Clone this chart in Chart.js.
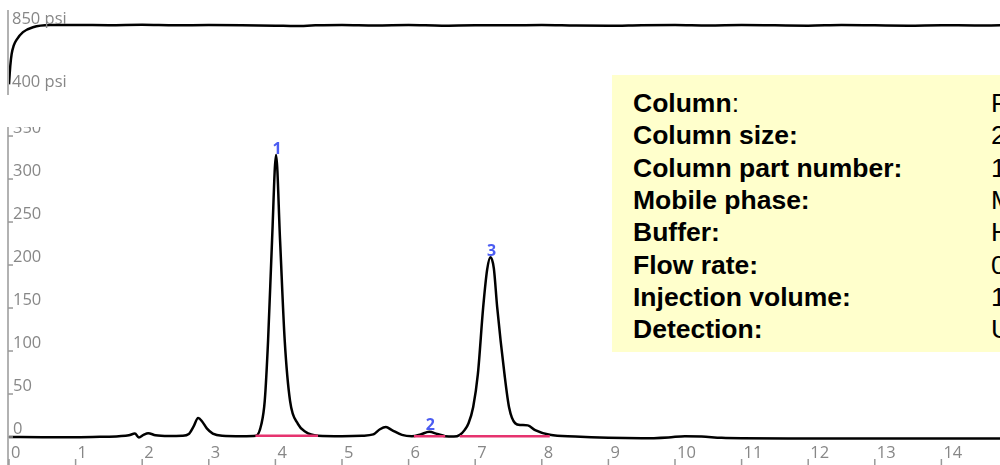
<!DOCTYPE html>
<html><head><meta charset="utf-8">
<script src="https://cdn.jsdelivr.net/npm/chart.js@4"></script>
<style>
html,body{margin:0;padding:0;background:#fff;}
#wrap{position:relative;width:1000px;height:465px;overflow:hidden;}
canvas{position:absolute;left:0;top:0;}
#info{position:absolute;left:612px;top:75px;width:388px;height:277px;background:#ffffcc;overflow:hidden;font-family:"Liberation Sans",Arial,sans-serif;font-size:26.5px;color:#000;}
.row{position:absolute;left:21px;white-space:nowrap;height:32px;line-height:32px;}
.lab{font-weight:bold;}
.val{position:absolute;left:358px;top:0;white-space:nowrap;font-weight:normal;}
</style></head><body>
<div id="wrap">
<canvas id="press" width="1000" height="100"></canvas>
<canvas id="main" width="1000" height="465"></canvas>
<div id="info"></div>
</div>
<script>
// ---- data ----
const pressureTime = [0, 0.01, 0.02, 0.04, 0.07, 0.116, 0.21, 0.36, 0.62, 1.0, 1.5, 2.0, 2.5, 3.0, 3.5, 4.0, 4.3, 4.6, 5.0, 5.5, 6.0, 6.5, 7.0, 7.5, 8.0, 8.5, 9.0, 9.5, 10.0, 10.5, 11.0, 11.5, 12.0, 12.5, 13.0, 13.5, 14.0, 14.5, 14.88];
const pressurePsi  = [405, 480, 545, 630, 690, 735, 790, 826, 842, 843, 841, 844, 840, 842, 841, 838, 835, 840, 843, 839, 842, 838, 841, 840, 843, 839, 837, 841, 843, 839, 842, 840, 838, 842, 840, 838, 841, 839, 840];

const chromTime   = [0.00, 0.50, 1.00, 1.40, 1.65, 1.80, 1.89, 1.95, 2.02, 2.09, 2.20, 2.40, 2.60, 2.70, 2.77, 2.84, 2.90, 2.97, 3.06, 3.20, 3.50, 3.71, 3.79, 3.84, 3.89, 3.95, 4.01, 4.07, 4.14, 4.22, 4.34, 4.45, 4.64, 5.00, 5.30, 5.47, 5.57, 5.66, 5.75, 5.90, 6.05, 6.18, 6.31, 6.43, 6.55, 6.68, 6.77, 6.84, 6.90, 6.97, 7.04, 7.12, 7.18, 7.23, 7.28, 7.33, 7.44, 7.51, 7.60, 7.68, 7.79, 7.90, 8.12, 8.50, 9.00, 9.50, 9.90, 10.15, 10.40, 10.70, 11.00, 12.00, 13.00, 14.00, 14.88];
const chromSignal = [0, -0.3, -0.3, 0.3, 1, 2, 4, -0.5, 2.5, 4.5, 2, 1.2, 1.5, 3.5, 12, 22, 18, 10, 4, 1.5, 1, 1.5, 15, 42, 112, 229, 328, 229, 112, 42, 15, 6, 1.5, 1, 1.5, 3, 9, 11.5, 8, 2.5, 1, 3, 6, 3.5, 1, 0.5, 2.5, 8, 16, 35, 73, 151, 195, 209, 196, 151, 73, 34, 16, 14, 13.5, 8, 2.5, 0.5, -1, -1.5, -0.5, 1, 0.5, -1, -1.5, -1.7, -1.8, -1.8, -1.8];

const peakNames   = ['1', '2', '3'];
const peakTimes   = [4.01, 6.31, 7.23];
const peakHeights = [328, 6, 209];

const baselineStart = [3.70, 6.08, 6.77];
const baselineEnd   = [4.64, 6.55, 8.12];
const baselineLevel = [1.5, 1, 1];

const yTickValues = [0, 50, 100, 150, 200, 250, 300, 350];
const xTickValues = [0, 1, 2, 3, 4, 5, 6, 7, 8, 9, 10, 11, 12, 13, 14];
const pressureTickValues = [850, 400];
const pressureTickLabels = ['850 psi', '400 psi'];

const infoLabels = ['Column', 'Column size:', 'Column part number:', 'Mobile phase:', 'Buffer:', 'Flow rate:', 'Injection volume:', 'Detection:'];
const infoSuffix = [':', '', '', '', '', '', '', ''];
const infoValues = ['Poroshell 120 EC-C18', '2.1 × 100 mm, 2.7 µm', '1', 'Methanol / Water', 'H₃PO₄', '0.5 mL/min', '1 µL', 'UV 254 nm'];

// ---- info box ----
const info = document.getElementById('info');
infoLabels.forEach((l, i) => {
  const r = document.createElement('div');
  r.className = 'row';
  r.style.top = (12 + i * 32.3) + 'px';
  const b = document.createElement('span'); b.className = 'lab'; b.textContent = l; r.appendChild(b);
  if (infoSuffix[i]) { const s = document.createElement('span'); s.textContent = infoSuffix[i]; r.appendChild(s); }
  const v = document.createElement('span'); v.className = 'val'; v.textContent = infoValues[i]; r.appendChild(v);
  info.appendChild(r);
});

const TICK_COLOR = '#878787';
const AXIS_COLOR = '#999999';
const TICK_FONT = '16.5px "Open Sans", sans-serif';

const mainAxes = {
  id: 'mainAxes',
  afterDatasetsDraw(chart) {
    const ctx = chart.ctx, a = chart.chartArea, xs = chart.scales.x, ys = chart.scales.y;
    ctx.save();
    ctx.beginPath(); ctx.rect(0, a.top, chart.width, chart.height - a.top); ctx.clip();
    ctx.strokeStyle = AXIS_COLOR; ctx.lineWidth = 1.5;
    ctx.beginPath(); ctx.moveTo(a.left - 1, a.top); ctx.lineTo(a.left - 1, chart.height); ctx.stroke();
    ctx.fillStyle = TICK_COLOR; ctx.font = TICK_FONT; ctx.textAlign = 'left'; ctx.textBaseline = 'alphabetic';
    yTickValues.forEach(v => {
      const y = ys.getPixelForValue(v);
      ctx.beginPath(); ctx.moveTo(a.left - 1, y); ctx.lineTo(a.left + 4, y); ctx.stroke();
      ctx.fillText(String(v), a.left + 4, y - 3);
    });
    xTickValues.forEach(v => {
      const x = xs.getPixelForValue(v);
      ctx.beginPath(); ctx.moveTo(x, chart.height - 6); ctx.lineTo(x, chart.height); ctx.stroke();
      ctx.fillText(String(v), x + 2, chart.height - 7);
    });
    ctx.fillStyle = '#4b5cf2'; ctx.font = 'bold 16px "Open Sans", sans-serif'; ctx.textAlign = 'center'; ctx.textBaseline = 'bottom';
    peakNames.forEach((n, i) => {
      ctx.fillText(n, xs.getPixelForValue(peakTimes[i]) + 1, ys.getPixelForValue(peakHeights[i]) + 2);
    });
    ctx.restore();
  }
};

const pressAxes = {
  id: 'pressAxes',
  afterDatasetsDraw(chart) {
    const ctx = chart.ctx, a = chart.chartArea, ys = chart.scales.y;
    ctx.save();
    ctx.strokeStyle = AXIS_COLOR; ctx.lineWidth = 1.5;
    ctx.beginPath(); ctx.moveTo(a.left - 1, a.top); ctx.lineTo(a.left - 1, a.bottom); ctx.stroke();
    ctx.fillStyle = TICK_COLOR; ctx.font = TICK_FONT; ctx.textAlign = 'left'; ctx.textBaseline = 'alphabetic';
    pressureTickValues.forEach((v, i) => {
      ctx.fillText(pressureTickLabels[i], a.left + 3, ys.getPixelForValue(v) + (i === 0 ? 0 : 2));
    });
    ctx.restore();
  }
};

const common = {
  responsive: false, animation: false, devicePixelRatio: 1, events: [],
  plugins: { legend: { display: false }, tooltip: { enabled: false } }
};

new Chart(document.getElementById('press'), {
  type: 'line',
  data: { datasets: [{ data: pressureTime.map((t, i) => ({ x: t, y: pressurePsi[i] })), borderColor: '#000', borderWidth: 2.5, pointRadius: 0, cubicInterpolationMode: 'monotone', fill: false }] },
  options: Object.assign({}, common, {
    layout: { padding: { left: 9, top: 10, bottom: 5, right: 0 } },
    scales: { x: { type: 'linear', min: 0, max: 14.88, display: false }, y: { type: 'linear', min: 326.2, max: 953.3, display: false } }
  }),
  plugins: [pressAxes]
});

const baseSets = baselineStart.map((s, i) => ({
  data: [{ x: s, y: baselineLevel[i] }, { x: baselineEnd[i], y: baselineLevel[i] }],
  borderColor: '#e6336f', borderWidth: 2.5, pointRadius: 0, fill: false, order: 0
}));

new Chart(document.getElementById('main'), {
  type: 'line',
  data: { datasets: [
    { data: chromTime.map((t, i) => ({ x: t, y: chromSignal[i] })), borderColor: '#000', borderWidth: 2.5, pointRadius: 0, cubicInterpolationMode: 'monotone', fill: false, order: 1 },
    ...baseSets
  ] },
  options: Object.assign({}, common, {
    layout: { padding: { left: 9, top: 127, bottom: 1, right: 0 } },
    scales: { x: { type: 'linear', min: 0, max: 14.88, display: false }, y: { type: 'linear', min: -31.4, max: 360.5, display: false } }
  }),
  plugins: [mainAxes]
});
</script>
</body></html>
